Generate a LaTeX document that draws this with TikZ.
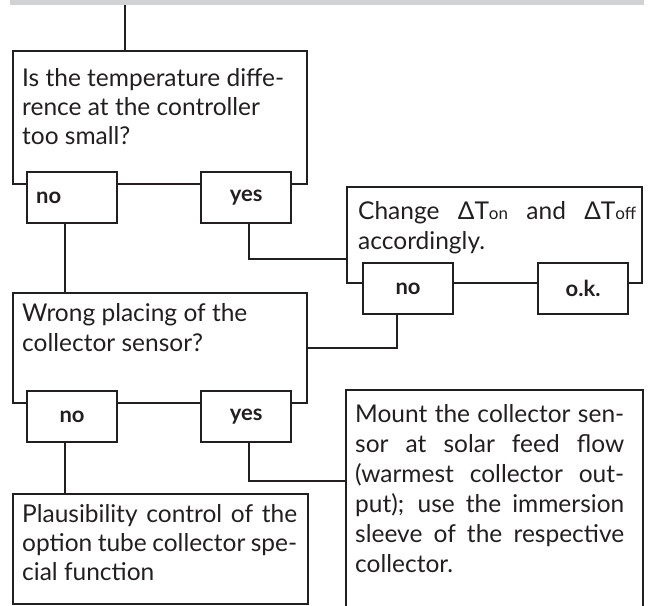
\documentclass[tikz,border=0pt]{standalone}
\usepackage{fontspec}
\setmainfont{Lato}
\usetikzlibrary{positioning, calc}

\definecolor{ink}{HTML}{231F20}
\definecolor{barfill}{HTML}{D1D2D4}
\newcommand{\spreadline}[2]{\makebox[#1][s]{#2}}
\newcommand{\smallidx}[1]{{\fontsize{17}{17}\selectfont #1}}

\begin{document}
\begin{tikzpicture}[x=1pt, y=-1pt,
    box/.style={draw=ink, line width=2.2pt, fill=white, inner sep=0pt, anchor=north west},
    tab/.style={draw=ink, line width=2.2pt, fill=white, minimum width=90pt, minimum height=51pt,
      inner sep=0pt, anchor=north west, text=ink, font=\fontsize{22}{22}\selectfont\bfseries},
    txt/.style={anchor=base west, inner sep=0pt, text=ink, font=\fontsize{24.5}{30}\selectfont},
    conn/.style={draw=ink, line width=2.2pt}]
    \useasboundingbox (0,0) rectangle (650,605);
    % top bar
    \node[fill=barfill, minimum width=634pt, minimum height=5pt, inner sep=0pt, anchor=north west] (bar) at (10,0) {};

    % boxes
    \node[box, minimum width=294pt, minimum height=133pt] (q1) at (12,50) {};
    \node[box, minimum width=294pt, minimum height=110pt] (q2) at (12,292) {};
    \node[box, minimum width=295pt, minimum height=96pt] (chg) at (346,186) {};
    \node[box, minimum width=295pt, minimum height=110pt] (plaus) at (12,493) {};
    \node[box, draw=none, fill=none, minimum width=295pt, minimum height=215pt] (mount) at (346,390) {};
    \draw[conn] (mount.south west) -- (mount.north west) -- (mount.north east) -- (mount.south east);

    % answer tabs
    \node[tab, text width=72pt, align=left] (q1no) at (26,171) {no};
    \node[tab] (q1yes) at (200,171) {yes};
    \node[tab] (q2no) at (26,390) {no};
    \node[tab] (q2yes) at (200,390) {yes};
    \node[tab] (chgno) at (362,262) {no};
    \node[tab] (chgok) at (537,262) {o.k.};

    % texts
    \foreach \ln [count=\i] in {Is the temperature diffe-, rence at the controller, too small?}
      \node[txt] (q1t\i) at (22, {86+29*(\i-1)}) {\ln};
    \foreach \ln [count=\i] in {Wrong placing of the, collector sensor?}
      \node[txt] (q2t\i) at (22, {321+30*(\i-1)}) {\ln};
    \foreach \ln [count=\i] in {{\spreadline{278pt}{Change ΔT\smallidx{on} and ΔT\smallidx{off}}}, accordingly.}
      \node[txt] (chgt\i) at (358, {219+30*(\i-1)}) {\ln};
    \foreach \ln [count=\i] in {{\spreadline{275pt}{Plausibility control of the}},
        {\spreadline{275pt}{option tube collector spe-}}, cial function}
      \node[txt] (plaust\i) at (22, {522+29*(\i-1)}) {\ln};
    \foreach \ln [count=\i] in {{\spreadline{269pt}{Mount the collector sen-}},
        {\spreadline{269pt}{sor at solar feed flow}},
        {\spreadline{269pt}{(warmest collector out-}},
        {\spreadline{269pt}{put); use the immersion}},
        {\spreadline{269pt}{sleeve of the respective}}, collector.}
      \node[txt] (mountt\i) at (355, {422+30*(\i-1)}) {\ln};

    % connectors
    \coordinate (q1in) at ($(q1.north west)+(113,0)$);
    \draw[conn] (q1in |- bar.south) -- (q1in);
    \coordinate (q1d) at ($(q1no.south)+(-7,0)$);
    \draw[conn] (q1d) -- (q1d |- q2.north);
    \coordinate (chgin) at ($(chg.north west)+(0,73)$);
    \draw[conn] ($(q1yes.south)+(2.5,0)$) |- (chgin);
    \coordinate (chgd) at ($(chgno.south)+(-11,0)$);
    \draw[conn] (chgd) |- (q2.east);
    \coordinate (q2d) at ($(q2no.south)+(-7,0)$);
    \draw[conn] (q2d) -- (q2d |- plaus.north);
    \coordinate (mountin) at ($(mount.north west)+(0,91)$);
    \draw[conn] ($(q2yes.south)+(2.5,0)$) |- (mountin);
\end{tikzpicture}
\end{document}
